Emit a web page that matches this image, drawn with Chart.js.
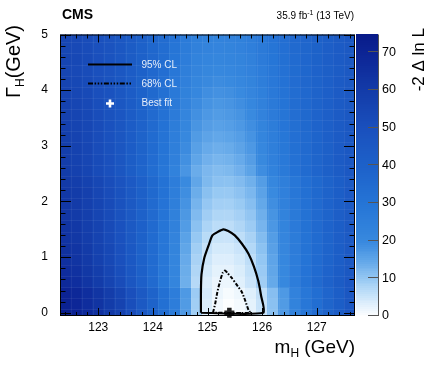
<!DOCTYPE html>
<html>
<head>
  <meta charset="utf-8" />
  <title>Higgs boson mass and width scan</title>
  <script src="https://cdn.jsdelivr.net/npm/chart.js"></script>
  <style>
    body { background: white; margin: 0; }
    #wrap { width: 432px; height: 367px; }
  </style>
</head>
<body>
  <div id="wrap"><canvas id="scanChart" width="432" height="367"></canvas></div>

  <script>
    // scan bin centres
    const massBins = [122.4, 122.6, 122.8, 123.0, 123.2, 123.4, 123.6, 123.8, 124.0, 124.2, 124.4, 124.6, 124.8,
                      125.0, 125.2, 125.4, 125.6, 125.8, 126.0, 126.2, 126.4, 126.6, 126.8, 127.0, 127.2, 127.4, 127.6];
    const widthBins = [-0.04, 0.16, 0.36, 0.56, 0.76, 0.96, 1.16, 1.36, 1.56, 1.76, 1.96, 2.16, 2.36,
                       2.56, 2.76, 2.96, 3.16, 3.36, 3.56, 3.76, 3.96, 4.16, 4.36, 4.56, 4.76, 4.96];

    // -2 Delta ln L, one row per width bin (bottom to top), one value per mass bin
    const nllGrid = [
      [73, 71, 68, 65, 61, 57, 52, 46, 40, 33, 26, 17, 9, 3.5, 1.0, 0, 0.8, 2.5, 5.5, 11, 17, 23, 29, 34, 39, 43, 47],
      [71, 69, 66, 63, 59.5, 56, 51, 45, 39, 32, 25.5, 16.8, 9.0, 3.7, 1.3, 0.3, 1.1, 2.7, 5.6, 11.0, 16.8, 22.6, 28.4, 33.3, 38.1, 42.0, 45.9],
      [70.3, 68.4, 65.5, 62.7, 58.9, 55.1, 50.3, 44.6, 38.9, 32.3, 25.6, 17.1, 9.5, 4.2, 1.9, 0.9, 1.7, 3.3, 6.1, 11.4, 17.1, 22.8, 28.5, 33.2, 38.0, 41.8, 45.6],
      [67.8, 65.5, 62.8, 59.6, 55.9, 51.7, 46.7, 41.2, 35.2, 28.7, 21.4, 13.6, 7.1, 3.6, 2.0, 1.9, 3.1, 5.3, 9.1, 14.5, 20.0, 25.5, 30.6, 35.2, 39.3, 43.0, 46.2],
      [66.4, 64.2, 61.5, 58.4, 54.8, 50.8, 45.9, 40.6, 34.8, 28.6, 21.4, 13.9, 7.6, 4.3, 2.7, 2.6, 3.7, 5.9, 9.6, 14.8, 20.1, 25.4, 30.3, 34.8, 38.8, 42.4, 45.5],
      [65.0, 62.9, 60.3, 57.3, 53.8, 50.0, 45.2, 40.1, 34.5, 28.5, 21.6, 14.3, 8.3, 5.0, 3.4, 3.4, 4.5, 6.5, 10.2, 15.1, 20.3, 25.5, 30.2, 34.5, 38.4, 41.8, 44.8],
      [64.5, 62.4, 59.9, 56.9, 53.6, 49.8, 45.2, 40.1, 34.7, 28.8, 22.1, 14.9, 9.0, 5.8, 4.3, 4.3, 5.3, 7.4, 10.9, 15.8, 20.8, 25.8, 30.5, 34.7, 38.4, 41.8, 44.7],
      [63.4, 61.4, 59.0, 56.1, 52.9, 49.2, 44.8, 39.9, 34.7, 29.0, 22.5, 15.6, 10.0, 6.9, 5.4, 5.3, 6.4, 8.3, 11.7, 16.4, 21.3, 26.2, 30.6, 34.7, 38.3, 41.6, 44.4],
      [63.2, 61.2, 58.8, 56.1, 52.9, 49.4, 45.0, 40.3, 35.1, 29.6, 23.3, 16.6, 11.0, 8.0, 6.6, 6.5, 7.6, 9.5, 12.8, 17.4, 22.1, 26.8, 31.2, 35.1, 38.7, 41.9, 44.6],
      [62.1, 60.2, 57.9, 55.3, 52.2, 48.8, 44.6, 40.1, 35.1, 29.8, 23.7, 17.3, 12.0, 9.1, 7.7, 7.6, 8.6, 10.4, 13.6, 18.0, 22.6, 27.2, 31.3, 35.1, 38.6, 41.6, 44.3],
      [61.8, 59.9, 57.7, 55.1, 52.2, 48.8, 44.8, 40.3, 35.5, 30.3, 24.4, 18.1, 12.9, 10.1, 8.8, 8.7, 9.7, 11.5, 14.6, 18.9, 23.3, 27.7, 31.8, 35.5, 38.8, 41.8, 44.4],
      [61.4, 59.6, 57.5, 55.0, 52.1, 48.8, 44.9, 40.6, 35.9, 30.8, 25.1, 19.0, 13.9, 11.2, 9.9, 9.8, 10.8, 12.5, 15.5, 19.7, 24.0, 28.3, 32.3, 35.9, 39.1, 42.0, 44.5],
      [60.4, 58.7, 56.6, 54.2, 51.4, 48.3, 44.5, 40.4, 35.9, 31.1, 25.5, 19.7, 14.8, 12.2, 11.0, 10.9, 11.8, 13.5, 16.4, 20.4, 24.5, 28.6, 32.4, 35.9, 39.0, 41.8, 44.2],
      [59.3, 57.3, 55.3, 52.6, 49.9, 46.5, 42.5, 38.5, 33.8, 29.1, 23.1, 17.7, 14.0, 12.4, 11.7, 12.2, 13.4, 15.4, 19.1, 23.1, 27.1, 31.1, 34.5, 37.8, 40.5, 43.2, 45.2],
      [58.9, 56.9, 55.0, 52.4, 49.8, 46.5, 42.6, 38.7, 34.2, 29.6, 23.8, 18.6, 15.0, 13.4, 12.7, 13.2, 14.3, 16.3, 19.9, 23.8, 27.7, 31.6, 34.8, 38.1, 40.7, 43.3, 45.2],
      [58.4, 56.5, 54.7, 52.1, 49.6, 46.5, 42.7, 38.9, 34.5, 30.1, 24.4, 19.4, 15.9, 14.3, 13.7, 14.2, 15.3, 17.2, 20.6, 24.4, 28.2, 32.0, 35.1, 38.3, 40.8, 43.3, 45.2],
      [58.0, 56.2, 54.4, 51.9, 49.5, 46.4, 42.8, 39.1, 34.8, 30.6, 25.1, 20.2, 16.8, 15.3, 14.7, 15.2, 16.2, 18.1, 21.4, 25.1, 28.7, 32.4, 35.4, 38.5, 40.9, 43.4, 45.2],
      [57.6, 55.8, 54.1, 51.7, 49.3, 46.4, 42.8, 39.3, 35.2, 31.0, 25.7, 21.0, 17.8, 16.3, 15.7, 16.2, 17.2, 18.9, 22.2, 25.7, 29.3, 32.8, 35.8, 38.7, 41.1, 43.4, 45.2],
      [57.1, 55.4, 53.7, 51.4, 49.1, 46.2, 42.8, 39.4, 35.4, 31.4, 26.3, 21.7, 18.6, 17.2, 16.6, 17.1, 18.0, 19.7, 22.9, 26.3, 29.7, 33.1, 36.0, 38.8, 41.1, 43.4, 45.1],
      [56.6, 54.9, 53.3, 51.1, 48.9, 46.1, 42.8, 39.5, 35.7, 31.8, 26.9, 22.5, 19.4, 18.1, 17.5, 17.9, 18.9, 20.5, 23.6, 26.9, 30.2, 33.5, 36.2, 39.0, 41.2, 43.4, 45.0],
      [56.0, 54.4, 52.9, 50.7, 48.6, 46.0, 42.8, 39.6, 35.9, 32.2, 27.4, 23.2, 20.3, 18.9, 18.4, 18.8, 19.7, 21.3, 24.2, 27.4, 30.6, 33.8, 36.4, 39.1, 41.2, 43.3, 44.9],
      [55.5, 54.0, 52.5, 50.4, 48.4, 45.8, 42.8, 39.7, 36.1, 32.6, 28.0, 23.9, 21.1, 19.8, 19.3, 19.7, 20.6, 22.1, 24.9, 28.0, 31.0, 34.1, 36.6, 39.2, 41.2, 43.3, 44.8],
      [55.0, 53.5, 52.1, 50.1, 48.1, 45.7, 42.7, 39.8, 36.4, 32.9, 28.5, 24.6, 21.9, 20.7, 20.2, 20.6, 21.4, 22.9, 25.6, 28.5, 31.5, 34.4, 36.9, 39.3, 41.3, 43.2, 44.7],
      [55.1, 53.6, 52.2, 50.3, 48.4, 46.0, 43.1, 40.2, 36.8, 33.5, 29.2, 25.3, 22.7, 21.5, 21.0, 21.4, 22.2, 23.6, 26.3, 29.2, 32.0, 34.9, 37.3, 39.7, 41.6, 43.6, 45.0],
      [54.5, 53.1, 51.7, 49.9, 48.0, 45.7, 43.0, 40.2, 37.0, 33.8, 29.6, 25.9, 23.4, 22.3, 21.8, 22.2, 23.0, 24.3, 26.9, 29.6, 32.4, 35.1, 37.4, 39.7, 41.6, 43.4, 44.8],
      [54.6, 53.2, 51.9, 50.1, 48.3, 46.0, 43.3, 40.6, 37.5, 34.3, 30.3, 26.7, 24.2, 23.1, 22.6, 23.0, 23.7, 25.1, 27.6, 30.3, 33.0, 35.7, 37.9, 40.2, 42.0, 43.8, 45.1]
    ];

    // contours
    const cl95Mass  = [124.88, 124.88, 124.89, 124.94, 125.02, 125.09, 125.20, 125.29, 125.38, 125.50, 125.63, 125.75, 125.85, 125.93, 125.98, 126.02, 124.88];
    const cl95Width = [0.00, 0.40, 0.69, 0.98, 1.21, 1.39, 1.46, 1.50, 1.47, 1.39, 1.24, 1.06, 0.83, 0.57, 0.31, 0.00, 0.00];
    const cl68Mass  = [125.10, 125.14, 125.18, 125.23, 125.28, 125.32, 125.36, 125.44, 125.53, 125.63, 125.69, 125.75, 125.78, 125.10];
    const cl68Width = [0.00, 0.16, 0.37, 0.57, 0.72, 0.76, 0.72, 0.63, 0.51, 0.37, 0.22, 0.05, 0.00, 0.00];
    const bestFitMass  = [125.40];
    const bestFitWidth = [0.0];

    const massTicks  = [123, 124, 125, 126, 127];
    const widthTicks = [0, 1, 2, 3, 4, 5];
    const nllTicks   = [0, 10, 20, 30, 40, 50, 60, 70];

    const FONT = "'Liberation Sans', Arial, Helvetica, sans-serif";

    // blue palette of the z axis: [value, r, g, b]
    const nllStops = [
      [0, 255, 255, 255], [5, 205, 230, 250], [10, 150, 200, 243], [15, 95, 165, 232],
      [20, 55, 136, 222], [30, 37, 116, 214], [40, 29, 97, 201], [50, 26, 80, 189],
      [60, 19, 59, 168], [70, 12, 36, 149], [75, 8, 26, 136]
    ];
    function nllColour(v) {
      for (let k = 1; k < nllStops.length; k++) {
        const a = nllStops[k - 1], b = nllStops[k];
        if (v <= b[0] || k === nllStops.length - 1) {
          const t = Math.min(1, Math.max(0, (v - a[0]) / (b[0] - a[0])));
          const c = [1, 2, 3].map(n => Math.round(a[n] + t * (b[n] - a[n])));
          return 'rgb(' + c.join(',') + ')';
        }
      }
    }

    const pts = (xs, ys) => xs.map((m, i) => ({ x: m, y: ys[i] }));
    const fixTicks = vals => scale => { scale.ticks = vals.map(v => ({ value: v })); };

    function textRun(ctx, parts, x, y) {
      // parts: [text, size, dy, weight]
      let cx = x;
      parts.forEach(p => {
        ctx.font = (p[3] || '') + ' ' + p[1] + 'px ' + FONT;
        ctx.fillText(p[0], cx, y + p[2]);
        cx += ctx.measureText(p[0]).width;
      });
      return cx - x;
    }
    function runWidth(ctx, parts) {
      let w = 0;
      parts.forEach(p => { ctx.font = (p[3] || '') + ' ' + p[1] + 'px ' + FONT; w += ctx.measureText(p[0]).width; });
      return w;
    }

    const scanPlugin = {
      id: 'scan',
      beforeDatasetsDraw(chart) {
        const { ctx, chartArea: a, scales: { x, y } } = chart;
        ctx.save();
        ctx.beginPath();
        ctx.rect(a.left, a.top, a.right - a.left, a.bottom - a.top);
        ctx.clip();
        nllGrid.forEach((row, j) => {
          const yt = Math.floor(y.getPixelForValue(widthBins[j] + 0.1));
          const yb = Math.ceil(y.getPixelForValue(widthBins[j] - 0.1));
          row.forEach((v, i) => {
            const xl = Math.floor(x.getPixelForValue(massBins[i] - 0.1));
            const xr = Math.ceil(x.getPixelForValue(massBins[i] + 0.1));
            ctx.fillStyle = nllColour(v);
            ctx.fillRect(xl, yt, xr - xl, yb - yt);
          });
        });
        // faint seams between cells
        ctx.strokeStyle = 'rgba(255,255,255,0.06)';
        ctx.lineWidth = 1;
        ctx.beginPath();
        massBins.forEach(m => {
          const px = Math.round(x.getPixelForValue(m + 0.1)) + 0.5;
          ctx.moveTo(px, a.top); ctx.lineTo(px, a.bottom);
        });
        widthBins.forEach(g => {
          const py = Math.round(y.getPixelForValue(g + 0.1)) + 0.5;
          ctx.moveTo(a.left, py); ctx.lineTo(a.right, py);
        });
        ctx.stroke();
        ctx.restore();
      },
      afterDatasetsDraw(chart) {
        const { ctx, chartArea: a, scales: { x, y, z } } = chart;
        ctx.save();

        // legend inside the frame
        ctx.strokeStyle = '#000';
        ctx.lineWidth = 2.2;
        ctx.beginPath(); ctx.moveTo(88, 64.5); ctx.lineTo(132, 64.5); ctx.stroke();
        ctx.setLineDash([5, 1.6, 1.5, 1.6, 1.5, 1.6, 1.5, 1.6]);
        ctx.beginPath(); ctx.moveTo(88, 83.5); ctx.lineTo(132, 83.5); ctx.stroke();
        ctx.setLineDash([]);
        ctx.strokeStyle = '#fff';
        ctx.lineWidth = 2.6;
        ctx.beginPath();
        ctx.moveTo(106, 103.5); ctx.lineTo(114, 103.5);
        ctx.moveTo(110, 99.5); ctx.lineTo(110, 107.5);
        ctx.stroke();
        ctx.fillStyle = 'rgba(240,244,252,0.95)';
        ctx.font = '10px ' + FONT;
        ctx.textBaseline = 'middle';
        ctx.textAlign = 'left';
        ctx.fillText('95% CL', 141.5, 65);
        ctx.fillText('68% CL', 141.5, 84);
        ctx.fillText('Best fit', 141.5, 103.5);

        // frame and inward ticks
        ctx.strokeStyle = '#000';
        ctx.lineWidth = 1;
        ctx.strokeRect(a.left + 0.5, a.top + 0.5, a.right - a.left - 1, a.bottom - a.top - 1);
        ctx.beginPath();
        for (let k = 0; k <= 26; k++) {
          const m = massBins[0] + 0.2 * k;
          const major = massTicks.some(t => Math.abs(t - m) < 1e-6);
          const len = major ? 8 : 4;
          const px = Math.round(x.getPixelForValue(m)) + 0.5;
          ctx.moveTo(px, a.bottom); ctx.lineTo(px, a.bottom - len);
          ctx.moveTo(px, a.top); ctx.lineTo(px, a.top + len);
        }
        for (let k = 0; k <= 25; k++) {
          const g = 0.2 * k;
          const major = widthTicks.some(t => Math.abs(t - g) < 1e-6);
          const len = major ? 11 : 5.5;
          const py = Math.round(y.getPixelForValue(g)) + 0.5;
          ctx.moveTo(a.left, py); ctx.lineTo(a.left + len, py);
          ctx.moveTo(a.right, py); ctx.lineTo(a.right - len, py);
        }
        ctx.stroke();

        // colour bar on the z scale
        const bl = z.left + 1, bw = 22;
        for (let v = 0; v < z.max; v += 0.5) {
          const t = z.getPixelForValue(Math.min(v + 0.5, z.max));
          const b = z.getPixelForValue(v);
          ctx.fillStyle = nllColour(v + 0.25);
          ctx.fillRect(bl, Math.floor(t), bw, Math.ceil(b) - Math.floor(t));
        }
        ctx.strokeStyle = '#555';
        ctx.beginPath();
        ctx.moveTo(bl + bw + 0.5, z.top); ctx.lineTo(bl + bw + 0.5, z.bottom);
        nllTicks.forEach(v => {
          const py = Math.round(z.getPixelForValue(v)) - 0.5;
          ctx.moveTo(bl + bw, py); ctx.lineTo(bl + bw - 10, py);
        });
        ctx.stroke();

        // titles
        ctx.fillStyle = '#000';
        ctx.textBaseline = 'alphabetic';
        const xt = [['m', 19, 0], ['H', 12, 4], [' (GeV)', 19, 0]];
        textRun(ctx, xt, a.right - runWidth(ctx, xt), 353);

        const yt = [['\u0393', 20, 0], ['H', 12, 4], ['(GeV)', 20, 0]];
        ctx.save();
        ctx.translate(19.5, 25);
        ctx.rotate(-Math.PI / 2);
        textRun(ctx, yt, -runWidth(ctx, yt), 0);
        ctx.restore();

        const zt = [['-2 \u0394 ln L', 17, 0]];
        ctx.save();
        ctx.translate(424, 28);
        ctx.rotate(-Math.PI / 2);
        textRun(ctx, zt, -runWidth(ctx, zt), 0);
        ctx.restore();

        textRun(ctx, [['CMS', 14, 0, 'bold']], 62, 19);
        const lumi = [['35.9 fb', 10, 0], ['-1', 7, -4], [' (13 TeV)', 10, 0]];
        textRun(ctx, lumi, 354 - runWidth(ctx, lumi), 18.5);

        ctx.restore();
      }
    };

    const tickFont = { family: FONT, size: 12 };

    new Chart(document.getElementById('scanChart').getContext('2d'), {
      type: 'scatter',
      data: {
        datasets: [
          {
            label: '95% CL',
            data: pts(cl95Mass, cl95Width),
            showLine: true,
            borderColor: '#000',
            borderWidth: 2.2,
            pointRadius: 0,
            tension: 0.2,
            yAxisID: 'y'
          },
          {
            label: '68% CL',
            data: pts(cl68Mass, cl68Width),
            showLine: true,
            borderColor: '#000',
            borderWidth: 2,
            borderDash: [4, 1.6, 1.5, 1.6],
            pointRadius: 0,
            tension: 0.2,
            yAxisID: 'y'
          },
          {
            label: 'Best fit outline',
            data: pts(bestFitMass, bestFitWidth),
            pointStyle: 'cross',
            pointRadius: 5,
            borderColor: '#222',
            borderWidth: 4.5,
            yAxisID: 'y',
            clip: false
          },
          {
            label: 'Best fit',
            data: pts(bestFitMass, bestFitWidth),
            pointStyle: 'cross',
            pointRadius: 4.2,
            borderColor: '#fff',
            borderWidth: 2.2,
            yAxisID: 'y',
            clip: false
          }
        ]
      },
      options: {
        responsive: false,
        animation: false,
        layout: { padding: { top: 26, left: 0, right: 0, bottom: 0 } },
        plugins: {
          legend: { display: false },
          tooltip: { enabled: false },
          title: { display: false }
        },
        scales: {
          x: {
            type: 'linear',
            min: 122.3,
            max: 127.7,
            grid: { display: false, drawTicks: false },
            border: { display: false },
            ticks: { font: tickFont, color: '#000', padding: 4 },
            afterBuildTicks: fixTicks(massTicks),
            afterFit: s => { s.height = 51; }
          },
          y: {
            type: 'linear',
            position: 'left',
            min: -0.058,
            max: 5,
            grid: { display: false, drawTicks: false },
            border: { display: false },
            ticks: { font: tickFont, color: '#000', padding: 12 },
            afterBuildTicks: fixTicks(widthTicks),
            afterFit: s => { s.width = 60; }
          },
          z: {
            type: 'linear',
            axis: 'y',
            position: 'right',
            min: 0,
            max: 74.7,
            grid: { display: false, drawTicks: false },
            border: { display: false },
            ticks: { font: { family: FONT, size: 12.5 }, color: '#000', padding: 27 },
            afterBuildTicks: fixTicks(nllTicks),
            afterFit: s => { s.width = 77; }
          }
        }
      },
      plugins: [scanPlugin]
    });
  </script>
</body>
</html>
